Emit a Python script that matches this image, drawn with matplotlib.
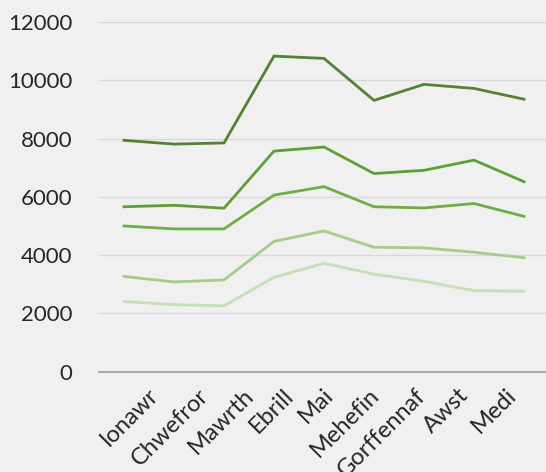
import matplotlib
matplotlib.use("Agg")
import matplotlib.pyplot as plt

months = ["Ionawr", "Chwefror", "Mawrth", "Ebrill", "Mai", "Mehefin", "Gorffennaf", "Awst", "Medi"]

series_1 = [7940, 7810, 7850, 10830, 10750, 9310, 9860, 9720, 9350]
series_2 = [5660, 5710, 5610, 7570, 7710, 6800, 6910, 7260, 6520]
series_3 = [5000, 4900, 4900, 6060, 6350, 5660, 5620, 5770, 5330]
series_4 = [3270, 3080, 3150, 4470, 4830, 4270, 4250, 4100, 3910]
series_5 = [2410, 2300, 2260, 3240, 3720, 3350, 3100, 2780, 2760]

colors = ["#548235", "#5f9e38", "#70ad47", "#a3cd8a", "#c5e0b4"]

plt.rcParams['font.family'] = ['Lato', 'DejaVu Sans']

fig = plt.figure(figsize=(5.46, 4.72), dpi=100, facecolor="#f0f0f0")
ax = fig.add_axes([0.1813, 0.2125, 0.8242, 0.7409])
ax.set_facecolor("#f0f0f0")

x = list(range(len(months)))
for s, c in zip([series_1, series_2, series_3, series_4, series_5], colors):
    ax.plot(x, s, color=c, linewidth=2.0, solid_joinstyle="miter")

ax.set_ylim(0, 12000)
ax.set_yticks(range(0, 12001, 2000))
ax.set_xlim(-0.5, 8.5)
ax.set_xticks(x)
ax.set_xticklabels([])

# rotated month labels, nudged sideways like the original (pixels)
shifts = [24, 24, 19, 9, -1, -6, -9, -16, -18]
for i, (name, dx) in enumerate(zip(months, shifts)):
    ax.annotate(name, xy=(i, 0), xycoords=ax.get_xaxis_transform(),
                xytext=(dx, -13), textcoords="offset pixels",
                rotation=45, rotation_mode="anchor", ha="right", va="top",
                fontsize=17, color="#262626", annotation_clip=False)

ax.grid(axis="y", color="#d9d9d9", linewidth=1.0)
ax.set_axisbelow(True)
for side in ["top", "right", "left"]:
    ax.spines[side].set_visible(False)
ax.spines["bottom"].set_color("#9a9a9a")
ax.spines["bottom"].set_linewidth(1.2)

ax.tick_params(axis="y", length=0, pad=19, labelsize=16, labelcolor="#262626")
ax.tick_params(axis="x", length=0)

fig.savefig("out.png", dpi=100, facecolor="#f0f0f0")
